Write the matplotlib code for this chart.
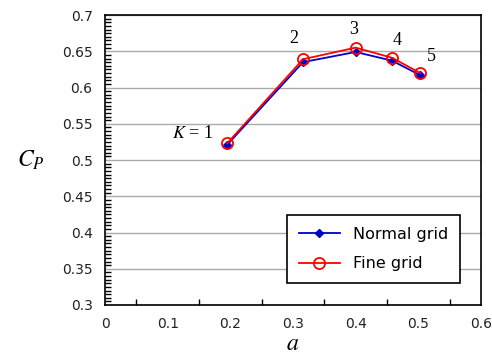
import matplotlib
matplotlib.use("Agg")
import matplotlib.pyplot as plt
from matplotlib.ticker import FixedLocator, FuncFormatter

# data
a_vals = [0.195, 0.316, 0.400, 0.458, 0.503]
cp_normal = [0.521, 0.635, 0.649, 0.637, 0.617]
cp_fine = [0.523, 0.639, 0.655, 0.641, 0.620]
x_ticks = [0, 0.1, 0.2, 0.3, 0.4, 0.5, 0.6]
y_ticks = [0.3, 0.35, 0.4, 0.45, 0.5, 0.55, 0.6, 0.65, 0.7]

plt.rcParams['mathtext.fontset'] = 'stix'

fig = plt.figure(figsize=(4.92, 3.63), dpi=100)
ax = fig.add_axes([105/492, 58/363, 376/492, 290/363])

ax.plot(a_vals, cp_normal, color='#0000cc', marker='D', markersize=4, lw=1.3,
        label='Normal grid', zorder=3)
ax.plot(a_vals, cp_fine, color='red', marker='o', markersize=8, mfc='none',
        mew=1.3, lw=1.3, label='Fine grid', zorder=4)

ax.set_xlim(0, 0.6)
ax.set_ylim(0.3, 0.7)
ax.xaxis.set_major_locator(FixedLocator(x_ticks))
ax.xaxis.set_minor_locator(FixedLocator([0.05 * i for i in range(1, 12)]))
ax.yaxis.set_major_locator(FixedLocator(y_ticks))
ax.yaxis.set_minor_locator(FixedLocator([0.3 + 0.005 * i for i in range(1, 80)]))
fmt = FuncFormatter(lambda v, p: '%g' % round(v, 3))
ax.xaxis.set_major_formatter(fmt)
ax.yaxis.set_major_formatter(fmt)
ax.tick_params(which='both', direction='in', top=False, right=False)
ax.tick_params(which='major', length=0, pad=9, labelsize=10, labelcolor='#222222')
ax.tick_params(which='minor', length=4, width=1)

ax.grid(axis='y', which='major', color='#aaaaaa', lw=1)
ax.set_axisbelow(True)
for s in ax.spines.values():
    s.set_linewidth(1.2)

ax.set_xlabel('$a$', fontsize=17, labelpad=0)
ax.set_ylabel('$C_P$', fontsize=17, rotation=0, labelpad=22, va='center')

# K annotations
ax.text(a_vals[0] - 0.022, cp_fine[0] + 0.013, '$K$ = 1', family='Liberation Serif',
        fontsize=13, ha='right', va='center')
ax.text(a_vals[1] - 0.015, cp_fine[1] + 0.022, '2', family='Liberation Serif', fontsize=13, ha='center')
ax.text(a_vals[2] - 0.003, cp_fine[2] + 0.019, '3', family='Liberation Serif', fontsize=13, ha='center')
ax.text(a_vals[3] + 0.008, cp_fine[3] + 0.017, '4', family='Liberation Serif', fontsize=13, ha='center')
ax.text(a_vals[4] + 0.018, cp_fine[4] + 0.016, '5', family='Liberation Serif', fontsize=13, ha='center')

leg = ax.legend(loc='lower right', bbox_to_anchor=(0.966, 0.048), fontsize=11.5,
                fancybox=False, edgecolor='black', framealpha=1,
                borderpad=0.75, labelspacing=0.9, handlelength=2.6)
leg.get_frame().set_linewidth(1.2)

fig.savefig('out.png', dpi=100)
